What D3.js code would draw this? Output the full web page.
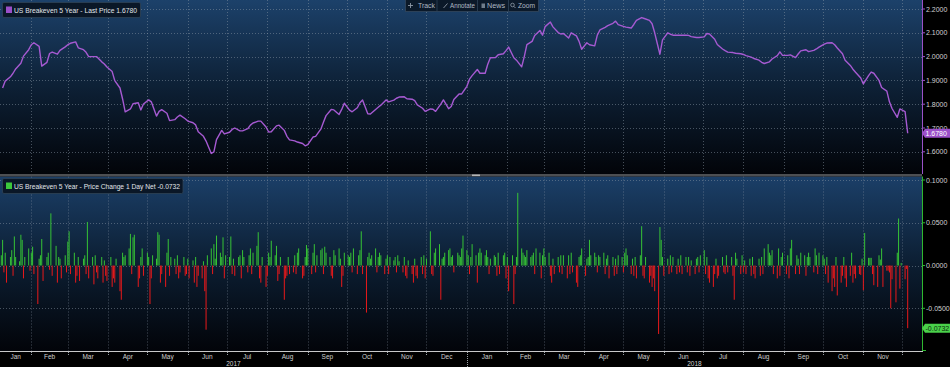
<!DOCTYPE html>
<html><head><meta charset="utf-8">
<script src="https://cdn.jsdelivr.net/npm/d3@7"></script>
<style>html,body{margin:0;padding:0;background:#000;overflow:hidden}</style>
</head><body><svg id="c" width="950" height="367"></svg>
<script>
// ---------- DATA ----------
const lastDate = "2018-12-05";
// US Breakeven 5 Year, last price, every second trading day (ending on lastDate)
const priceValues = [
1.868,1.897,1.915,1.930,1.948,1.972,2.002,2.029,2.050,2.058,
2.043,1.960,1.976,2.013,2.019,2.010,2.026,2.041,2.050,2.056,
2.062,2.037,2.029,2.018,2.000,2.000,2.000,1.978,1.969,1.956,
1.937,1.899,1.868,1.822,1.768,1.780,1.802,1.806,1.776,1.801,
1.818,1.810,1.750,1.770,1.777,1.762,1.731,1.735,1.746,1.754,
1.739,1.729,1.722,1.713,1.684,1.665,1.645,1.593,1.600,1.651,
1.690,1.675,1.682,1.694,1.700,1.688,1.688,1.697,1.712,1.721,
1.729,1.729,1.704,1.683,1.684,1.709,1.712,1.690,1.665,1.650,
1.646,1.641,1.635,1.625,1.630,1.662,1.665,1.695,1.724,1.752,
1.778,1.776,1.757,1.778,1.804,1.775,1.768,1.785,1.806,1.818,
1.760,1.759,1.778,1.787,1.796,1.818,1.810,1.817,1.825,1.830,
1.831,1.823,1.821,1.815,1.797,1.783,1.770,1.780,1.779,1.770,
1.800,1.818,1.781,1.790,1.820,1.843,1.843,1.875,1.905,1.920,
1.946,1.930,1.930,1.968,1.995,1.996,2.008,2.012,2.025,2.040,
1.995,1.985,1.957,2.000,2.050,2.064,2.089,2.110,2.090,2.126,
2.145,2.125,2.101,2.095,2.097,2.078,2.100,2.087,2.064,2.031,
2.058,2.050,2.045,2.090,2.112,2.123,2.130,2.140,2.149,2.134,
2.127,2.124,2.120,2.135,2.152,2.164,2.160,2.152,2.138,2.100,
2.010,2.070,2.100,2.094,2.090,2.090,2.090,2.090,2.089,2.084,
2.080,2.080,2.083,2.097,2.095,2.073,2.051,2.032,2.025,2.019,
2.017,2.014,2.012,2.009,2.004,1.998,1.992,1.985,1.976,1.971,
1.978,1.990,2.004,2.020,2.005,2.005,2.007,1.996,2.011,2.024,
2.029,2.021,2.026,2.032,2.040,2.052,2.057,2.058,2.050,2.036,
2.012,1.985,1.963,1.947,1.934,1.910,1.885,1.920,1.935,1.930,
1.900,1.870,1.855,1.810,1.782,1.745,1.780,1.769,1.678
];
// Price Change 1 Day Net, every trading day (ending on lastDate)
const changeValues = [
0.012,0.030,-0.008,0.015,-0.020,0.010,0.018,-0.012,0.034,0.010,
0.005,0.036,0.030,-0.015,0.010,0.020,-0.006,0.015,0.022,-0.010,
-0.045,0.008,0.012,0.031,-0.018,0.010,0.015,-0.005,0.061,-0.012,
0.023,-0.020,0.010,0.008,-0.015,0.012,-0.008,0.028,0.040,-0.010,
0.015,-0.020,-0.012,0.010,-0.018,0.008,0.012,-0.010,0.051,-0.015,
0.010,-0.022,0.012,-0.008,-0.015,0.010,-0.020,0.006,-0.012,-0.018,
0.010,-0.025,-0.015,-0.020,0.008,-0.030,-0.040,0.015,0.010,0.012,
0.020,0.037,-0.010,0.033,0.036,-0.025,-0.015,0.010,0.020,-0.012,
0.015,0.010,-0.045,-0.015,0.012,0.008,0.039,0.036,-0.020,-0.010,
-0.025,0.015,0.031,-0.012,0.010,0.008,-0.010,0.012,-0.015,-0.008,
0.010,-0.012,-0.010,0.008,-0.015,0.006,-0.020,0.010,-0.025,-0.012,
-0.015,0.005,-0.030,-0.075,0.012,0.020,-0.010,0.025,0.008,0.035,
0.015,0.010,0.033,-0.015,0.012,0.010,0.034,-0.010,0.008,-0.012,
0.010,0.012,-0.015,0.018,0.010,-0.008,0.012,0.020,-0.010,0.015,
0.023,0.039,-0.015,-0.020,0.010,-0.025,-0.012,0.015,0.010,0.029,
0.012,0.023,-0.018,-0.010,0.010,-0.040,-0.015,-0.012,0.010,-0.010,
-0.008,0.012,-0.010,0.015,0.020,-0.015,-0.012,0.010,0.024,0.020,
-0.010,0.015,0.025,-0.008,0.012,0.018,0.020,-0.010,0.022,0.015,
0.010,-0.012,-0.015,0.018,0.012,0.020,0.008,-0.025,-0.012,0.015,
0.012,0.010,0.015,-0.008,0.020,-0.010,0.012,0.018,0.040,-0.010,
-0.055,0.010,0.015,0.008,0.012,0.020,-0.008,0.010,0.015,0.012,
-0.010,0.008,0.012,-0.010,0.010,0.006,0.010,-0.008,0.012,0.005,
-0.008,0.010,-0.012,-0.015,0.006,-0.010,-0.020,0.008,-0.012,-0.015,
0.010,-0.010,0.012,-0.015,0.008,0.040,-0.010,-0.012,0.015,0.020,
0.025,-0.040,0.008,0.010,0.015,0.018,0.020,0.010,0.012,-0.008,
0.015,0.012,0.010,0.020,0.035,0.018,0.012,-0.010,0.010,0.025,
0.012,-0.020,0.015,0.020,0.015,0.012,0.018,0.010,-0.010,0.008,
0.012,0.010,-0.012,0.015,-0.010,0.012,0.015,-0.015,0.010,-0.030,
0.012,-0.045,-0.010,0.010,0.085,0.020,0.015,0.012,0.010,0.018,
0.010,0.012,0.015,-0.010,0.020,0.015,-0.015,0.012,0.020,0.010,
0.015,-0.012,-0.020,0.008,-0.010,0.010,-0.008,0.012,-0.010,0.012,
-0.015,0.012,-0.010,0.015,-0.008,-0.020,-0.025,0.010,0.012,0.020,
-0.012,0.008,0.010,0.030,0.012,0.015,0.010,-0.008,0.012,0.010,
0.015,-0.010,0.008,0.012,-0.015,0.010,-0.012,0.008,-0.010,0.012,
0.010,-0.008,0.015,0.020,0.012,-0.010,0.008,-0.012,0.010,-0.015,
0.012,0.046,-0.012,-0.015,0.010,-0.020,-0.012,-0.025,-0.015,-0.030,
-0.080,0.045,0.030,0.010,-0.012,0.008,-0.010,0.012,-0.008,0.010,
-0.010,0.008,-0.008,0.012,-0.010,0.010,-0.008,0.010,-0.012,0.006,
-0.010,0.008,0.010,-0.008,0.012,0.018,-0.010,0.010,-0.015,-0.020,
-0.025,-0.010,0.008,-0.015,-0.012,0.010,-0.008,-0.010,0.012,-0.008,
0.010,-0.012,-0.040,0.015,0.008,-0.010,0.012,-0.008,0.006,-0.010,
0.008,-0.012,0.010,-0.010,-0.015,0.008,-0.012,0.010,-0.010,0.020,
0.025,0.015,0.012,0.018,-0.010,-0.015,0.020,-0.012,0.010,0.015,
-0.010,0.012,-0.015,0.020,0.030,-0.010,0.012,0.008,-0.010,0.015,
0.012,-0.012,0.010,0.015,0.010,-0.008,0.020,0.012,-0.010,0.015,
0.012,0.008,-0.010,0.010,-0.020,-0.030,-0.015,-0.025,0.010,-0.035,
-0.020,-0.012,0.010,-0.015,-0.025,-0.012,0.015,-0.020,-0.010,-0.015,
-0.010,-0.011,0.008,-0.029,0.038,0.009,0.009,0.009,-0.010,-0.023,
-0.025,0.012,0.007,0.020,-0.025,-0.006,-0.006,-0.008,-0.050,-0.016,
-0.043,0.015,0.055,-0.027,0.003,-0.016,-0.004,-0.0732
];
const priceTicks = [1.6,1.7,1.8,1.9,2.0,2.1,2.2];
const changeTicks = [-0.05,0,0.05,0.1];
const monthNames = ["Jan","Feb","Mar","Apr","May","Jun","Jul","Aug","Sep","Oct","Nov","Dec"];
const yearLabels = ["2017","2018"];
const legendTop = "US Breakeven 5 Year - Last Price 1.6780";
const legendBottom = "US Breakeven 5 Year - Price Change 1 Day Net -0.0732";
const lastPriceText = "1.6780";
const lastChangeText = "-0.0732";
const toolbarItems = ["Track","Annotate","News","Zoom"];

// ---------- DRAW ----------
const W=950,H=367,R=922;
const FONT="'Liberation Sans', Arial, sans-serif";
const svg=d3.select('#c');
const defs=svg.append('defs');
function grad(id,stops){const g=defs.append('linearGradient').attr('id',id).attr('x1',0).attr('y1',0).attr('x2',0).attr('y2',1);
  stops.forEach(s=>g.append('stop').attr('offset',s[0]).attr('stop-color',s[1]));}
grad('gTop',[['0%','#1c416a'],['50%','#0d2035'],['100%','#020409']]);
grad('gBot',[['0%','#1b3f68'],['50%','#0c1e32'],['100%','#020409']]);
defs.append('clipPath').attr('id','clipT').append('rect').attr('x',0).attr('y',0).attr('width',R).attr('height',174);
defs.append('clipPath').attr('id','clipB').append('rect').attr('x',0).attr('y',176.5).attr('width',R).attr('height',174.5);

svg.append('rect').attr('width',W).attr('height',H).attr('fill','#000');
svg.append('rect').attr('x',0).attr('y',0).attr('width',R).attr('height',174).attr('fill','url(#gTop)');
svg.append('rect').attr('x',0).attr('y',176.5).attr('width',R).attr('height',174.5).attr('fill','url(#gBot)');

const parse=d3.timeParse('%Y-%m-%d');
const endDate=parse(lastDate);
function tradingDays(end,n){const out=[];const d=new Date(end);
  while(out.length<n){const w=d.getDay(); if(w!==0&&w!==6) out.unshift(new Date(d)); d.setDate(d.getDate()-1);} return out;}
const barDates=tradingDays(endDate,changeValues.length);
const priceDates=tradingDays(endDate,priceValues.length*2-1).filter((d,i)=>i%2===0);

const x=d3.scaleTime().domain([parse('2017-01-08'),parse('2018-12-06')]).range([0,909]);
const yP=d3.scaleLinear().domain([1.6,2.2]).range([151.8,9]);
const yC=d3.scaleLinear().domain([-0.05,0.1]).range([308.3,180]);

// grid
const monthStarts=d3.timeMonth.range(parse('2017-01-01'),parse('2018-12-02'));
const gridX=monthStarts.map(d=>x(d)).filter(v=>v>1&&v<R);
const gridStyle=s=>s.attr('stroke','#8795a3').attr('stroke-opacity',0.5).attr('stroke-width',1).attr('stroke-dasharray','1,2');
const g=svg.append('g');
gridX.forEach(v=>{
  gridStyle(g.append('line').attr('x1',Math.round(v)+0.5).attr('x2',Math.round(v)+0.5).attr('y1',0).attr('y2',174));
  gridStyle(g.append('line').attr('x1',Math.round(v)+0.5).attr('x2',Math.round(v)+0.5).attr('y1',176.5).attr('y2',351));
});
priceTicks.forEach(t=>gridStyle(g.append('line').attr('x1',0).attr('x2',R).attr('y1',Math.round(yP(t))+0.5).attr('y2',Math.round(yP(t))+0.5)));
changeTicks.forEach(t=>gridStyle(g.append('line').attr('x1',0).attr('x2',R).attr('y1',Math.round(yC(t))+0.5).attr('y2',Math.round(yC(t))+0.5)));

// bars
svg.append('g').attr('clip-path','url(#clipB)').selectAll('rect').data(changeValues).join('rect')
  .attr('x',(v,i)=>x(barDates[i])-0.5).attr('width',1)
  .attr('y',v=>v>=0?yC(v):yC(0)).attr('height',v=>Math.max(0.5,Math.abs(yC(v)-yC(0))))
  .attr('fill',v=>v>=0?'#36c236':'#e8191b');

// price line
const line=d3.line().x((v,i)=>x(priceDates[i])).y(v=>yP(v));
svg.append('g').attr('clip-path','url(#clipT)').append('path').datum(priceValues).attr('d',line)
  .attr('fill','none').attr('stroke','#a65ad2').attr('stroke-width',1.4).attr('stroke-linejoin','round');

// divider
svg.append('rect').attr('x',0).attr('y',174).attr('width',R).attr('height',2.5).attr('fill','#4d4f52');
svg.append('rect').attr('x',472).attr('y',174.5).attr('width',8).attr('height',1.6).attr('fill','#b4b4b4');

// right axes
svg.append('line').attr('x1',R+0.5).attr('x2',R+0.5).attr('y1',0).attr('y2',174).attr('stroke','#9a52c8').attr('stroke-width',1);
svg.append('line').attr('x1',R+0.5).attr('x2',R+0.5).attr('y1',176.5).attr('y2',351).attr('stroke','#2fb82f').attr('stroke-width',1);
svg.append('line').attr('x1',R).attr('x2',R+4).attr('y1',350.5).attr('y2',350.5).attr('stroke','#2fb82f');
priceTicks.forEach(t=>{
  svg.append('line').attr('x1',R).attr('x2',R+3).attr('y1',yP(t)).attr('y2',yP(t)).attr('stroke','#9a52c8');
  svg.append('text').attr('x',926).attr('y',yP(t)+2.6).attr('font-family',FONT).attr('font-size',7).attr('fill','#d2d2d2').text(d3.format('.4f')(t));
});
changeTicks.forEach(t=>{
  svg.append('line').attr('x1',R).attr('x2',R+3).attr('y1',yC(t)).attr('y2',yC(t)).attr('stroke','#2fb82f');
  svg.append('text').attr('x',926).attr('y',yC(t)+2.6).attr('font-family',FONT).attr('font-size',7).attr('fill','#d2d2d2').text(d3.format('.4f')(t).replace('\u2212','-'));
});
// last value tags
function tag(yv,fill,txt,tcol){
  svg.append('path').attr('d',`M${R},${yv} L${R+3},${yv-4.5} L950,${yv-4.5} L950,${yv+4.5} L${R+3},${yv+4.5} Z`).attr('fill',fill);
  svg.append('text').attr('x',925.5).attr('y',yv+2.6).attr('font-family',FONT).attr('font-size',7).attr('fill',tcol).text(txt);
}
tag(yP(priceValues[priceValues.length-1]),'#9b4fc9',lastPriceText,'#ffffff');
tag(yC(changeValues[changeValues.length-1]),'#4ad14a',lastChangeText,'#0b2e0b');

// x axis
svg.append('line').attr('x1',0).attr('x2',R+1).attr('y1',351.5).attr('y2',351.5).attr('stroke','#c8c8c8');
gridX.forEach(v=>svg.append('line').attr('x1',Math.round(v)+0.5).attr('x2',Math.round(v)+0.5).attr('y1',352).attr('y2',355)
  .attr('stroke','#9aa0a6').attr('stroke-dasharray','1,1'));
const yearBoundary=x(parse('2018-01-01'));
svg.append('line').attr('x1',Math.round(yearBoundary)+0.5).attr('x2',Math.round(yearBoundary)+0.5).attr('y1',352).attr('y2',367).attr('stroke','#9aa0a6').attr('stroke-dasharray','1,1');
monthStarts.slice(0,-1).forEach((m,i)=>{
  const a=Math.max(0,x(m)), b=Math.min(R,x(monthStarts[i+1]));
  svg.append('text').attr('x',(a+b)/2).attr('y',358.5).attr('text-anchor','middle').attr('font-family',FONT).attr('font-size',6.5)
    .attr('fill','#cfcfcf').text(monthNames[m.getMonth()]);
});
const yearSpans=[[0,yearBoundary],[yearBoundary,R]];
yearLabels.forEach((yl,i)=>svg.append('text').attr('x',(yearSpans[i][0]+yearSpans[i][1])/2).attr('y',366).attr('text-anchor','middle')
  .attr('font-family',FONT).attr('font-size',6.5).attr('fill','#cfcfcf').text(yl));

// legends
function legend(y0,w,col,txt,tl){
  svg.append('rect').attr('x',2.5).attr('y',y0).attr('width',w).attr('height',15).attr('rx',1.5).attr('fill','#0a1727').attr('stroke','#2f4256').attr('stroke-width',0.8);
  svg.append('rect').attr('x',6).attr('y',y0+4).attr('width',6).attr('height',6.5).attr('fill',col);
  svg.append('text').attr('x',14).attr('y',y0+10.5).attr('font-family',FONT).attr('font-size',7.2).attr('fill','#e2e6ea')
    .attr('textLength',tl).attr('lengthAdjust','spacingAndGlyphs').text(txt);
}
legend(2.5,138,'#9b4fc9',legendTop,123);
legend(178.5,180.5,'#3cc83c',legendBottom,166);

// toolbar
const tb=svg.append('g');
tb.append('rect').attr('x',405.5).attr('y',-1).attr('width',133).attr('height',12.5).attr('fill','#0b1929').attr('stroke','#34485e').attr('stroke-width',0.8);
[437,477.5,508.5].forEach(v=>tb.append('line').attr('x1',v).attr('x2',v).attr('y1',0).attr('y2',11).attr('stroke','#263a4e'));
const tbX=[418,450,487,518], tbW=[17,25,18,17];
toolbarItems.forEach((t,i)=>tb.append('text').attr('x',tbX[i]).attr('y',8.3).attr('font-family',FONT).attr('font-size',6.6)
  .attr('textLength',tbW[i]).attr('lengthAdjust','spacingAndGlyphs').attr('fill','#aeb8c3').text(t));
tb.append('path').attr('d','M408,5.5 h5 M410.5,3 v5').attr('stroke','#8d99a6').attr('stroke-width',0.9);
tb.append('path').attr('d','M443.5,8 L447.5,3.5').attr('stroke','#8d99a6').attr('stroke-width',0.9);
tb.append('rect').attr('x',481.5).attr('y',3.5).attr('width',3.5).attr('height',4.5).attr('fill','#6f7d8b');
tb.append('circle').attr('cx',512.5).attr('cy',5).attr('r',1.8).attr('fill','none').attr('stroke','#8d99a6').attr('stroke-width',0.8);
tb.append('path').attr('d','M513.8,6.3 L515.5,8').attr('stroke','#8d99a6').attr('stroke-width',0.9);
</script></body></html>
